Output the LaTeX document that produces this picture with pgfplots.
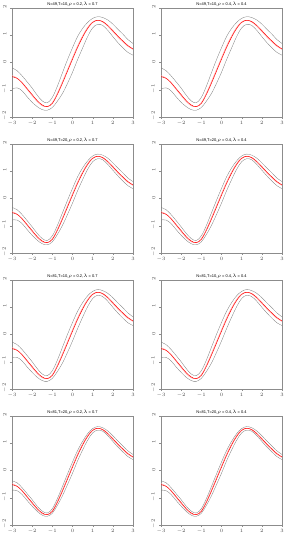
\documentclass[border=0pt]{standalone}
\usepackage{pgfplots}
\usepackage{pgfplotstable}
\pgfplotsset{compat=1.18}
\usepackage{fontspec}
\setmainfont{Liberation Sans}

\pgfplotstableread{
x f e u1 l1 u6 l6 u75 l75 u45 l45
-3.00 -0.52 -0.48 -0.20 -0.97 -0.33 -0.79 -0.28 -0.86 -0.38 -0.72
-2.75 -0.58 -0.57 -0.30 -0.93 -0.41 -0.79 -0.37 -0.84 -0.45 -0.74
-2.50 -0.74 -0.76 -0.49 -1.04 -0.59 -0.92 -0.55 -0.97 -0.63 -0.88
-2.25 -0.96 -0.99 -0.71 -1.26 -0.81 -1.14 -0.77 -1.19 -0.85 -1.10
-2.00 -1.18 -1.22 -0.94 -1.46 -1.04 -1.35 -1.00 -1.39 -1.07 -1.31
-1.75 -1.40 -1.44 -1.20 -1.62 -1.28 -1.53 -1.25 -1.57 -1.31 -1.50
-1.50 -1.56 -1.59 -1.41 -1.73 -1.47 -1.66 -1.45 -1.69 -1.49 -1.64
-1.25 -1.62 -1.62 -1.48 -1.75 -1.54 -1.70 -1.51 -1.72 -1.56 -1.68
-1.00 -1.50 -1.47 -1.28 -1.65 -1.37 -1.59 -1.33 -1.61 -1.40 -1.57
-0.75 -1.17 -1.12 -0.87 -1.42 -0.99 -1.32 -0.94 -1.36 -1.03 -1.28
-0.50 -0.76 -0.70 -0.38 -1.14 -0.53 -0.99 -0.47 -1.05 -0.59 -0.93
-0.25 -0.32 -0.26  0.10 -0.77 -0.07 -0.59  0.00 -0.66 -0.13 -0.52
 0.00  0.12  0.18  0.54 -0.36  0.37 -0.17  0.44 -0.24  0.31 -0.10
 0.25  0.55  0.61  0.95  0.10  0.79  0.28  0.85  0.21  0.73  0.35
 0.50  0.93  0.98  1.25  0.53  1.12  0.69  1.17  0.63  1.07  0.75
 0.75  1.25  1.29  1.47  0.95  1.38  1.07  1.42  1.02  1.35  1.11
 1.00  1.47  1.49  1.62  1.27  1.56  1.35  1.58  1.32  1.54  1.38
 1.25  1.55  1.55  1.68  1.40  1.63  1.46  1.65  1.44  1.61  1.48
 1.50  1.50  1.48  1.65  1.36  1.59  1.42  1.61  1.39  1.57  1.44
 1.75  1.36  1.33  1.56  1.18  1.48  1.25  1.51  1.22  1.45  1.28
 2.00  1.17  1.13  1.41  0.95  1.31  1.04  1.35  1.00  1.28  1.07
 2.25  0.97  0.93  1.22  0.73  1.12  0.83  1.16  0.79  1.08  0.86
 2.50  0.79  0.75  1.04  0.54  0.94  0.64  0.98  0.60  0.90  0.68
 2.75  0.62  0.59  0.84  0.37  0.75  0.47  0.79  0.43  0.72  0.51
 3.00  0.50  0.48  0.70  0.27  0.62  0.36  0.65  0.33  0.59  0.40
}\data

\definecolor{axgray}{RGB}{140,140,140}
\definecolor{bandgray}{RGB}{120,120,120}

\pgfplotsset{
  every axis title/.style={at={(0.5,1)}, anchor=base, yshift=2.2bp, inner sep=0pt,
    font=\fontsize{4}{5}\selectfont},
  panel/.style={
    scale only axis, width=121bp, height=109bp,
    anchor=south west,
    xmin=-3, xmax=3, ymin=-2, ymax=2,
    xtick={-3,-2,-1,0,1,2,3}, ytick={-2,-1,0,1,2},
    axis line style={axgray, line width=0.4bp},
    tick style={axgray, line width=0.3bp},
    tick align=outside, major tick length=2bp,
    xtick pos=bottom, ytick pos=left,
    tick label style={font=\fontsize{3.5}{4}\selectfont, text=black!70},
    yticklabel style={rotate=90},
    xticklabel style={yshift=1bp},
    yticklabel style={xshift=1bp},
    every axis plot/.append style={smooth, tension=0.6, no marks},
  },
}
\newcommand{\panel}[2]{%
  \addplot[bandgray, line width=0.3bp] table[x=x,y=#1]{\data};
  \addplot[bandgray, line width=0.3bp] table[x=x,y=#2]{\data};
  \addplot[red!40, line width=0.35bp] table[x=x,y=e]{\data};
  \addplot[red, line width=0.5bp] table[x=x,y=f]{\data};
}

\begin{document}
\begin{tikzpicture}
\useasboundingbox (0,0) rectangle (286bp,550bp);
\begin{axis}[panel, at={(12bp,433bp)}, title={N=49,T=10,$\rho$ = 0.2,$\lambda$ = 0.7}]
\panel{u1}{l1}
\end{axis}
\begin{axis}[panel, at={(161bp,433bp)}, title={N=49,T=10,$\rho$ = 0.4,$\lambda$ = 0.4}]
\panel{u1}{l1}
\end{axis}
\begin{axis}[panel, at={(12bp,297bp)}, title={N=49,T=20,$\rho$ = 0.2,$\lambda$ = 0.7}]
\panel{u6}{l6}
\end{axis}
\begin{axis}[panel, at={(161bp,297bp)}, title={N=49,T=20,$\rho$ = 0.4,$\lambda$ = 0.4}]
\panel{u6}{l6}
\end{axis}
\begin{axis}[panel, at={(12bp,161bp)}, title={N=81,T=10,$\rho$ = 0.2,$\lambda$ = 0.7}]
\panel{u75}{l75}
\end{axis}
\begin{axis}[panel, at={(161bp,161bp)}, title={N=81,T=10,$\rho$ = 0.4,$\lambda$ = 0.4}]
\panel{u75}{l75}
\end{axis}
\begin{axis}[panel, at={(12bp,25bp)}, title={N=81,T=20,$\rho$ = 0.2,$\lambda$ = 0.7}]
\panel{u45}{l45}
\end{axis}
\begin{axis}[panel, at={(161bp,25bp)}, title={N=81,T=20,$\rho$ = 0.4,$\lambda$ = 0.4}]
\panel{u45}{l45}
\end{axis}
\end{tikzpicture}
\end{document}
